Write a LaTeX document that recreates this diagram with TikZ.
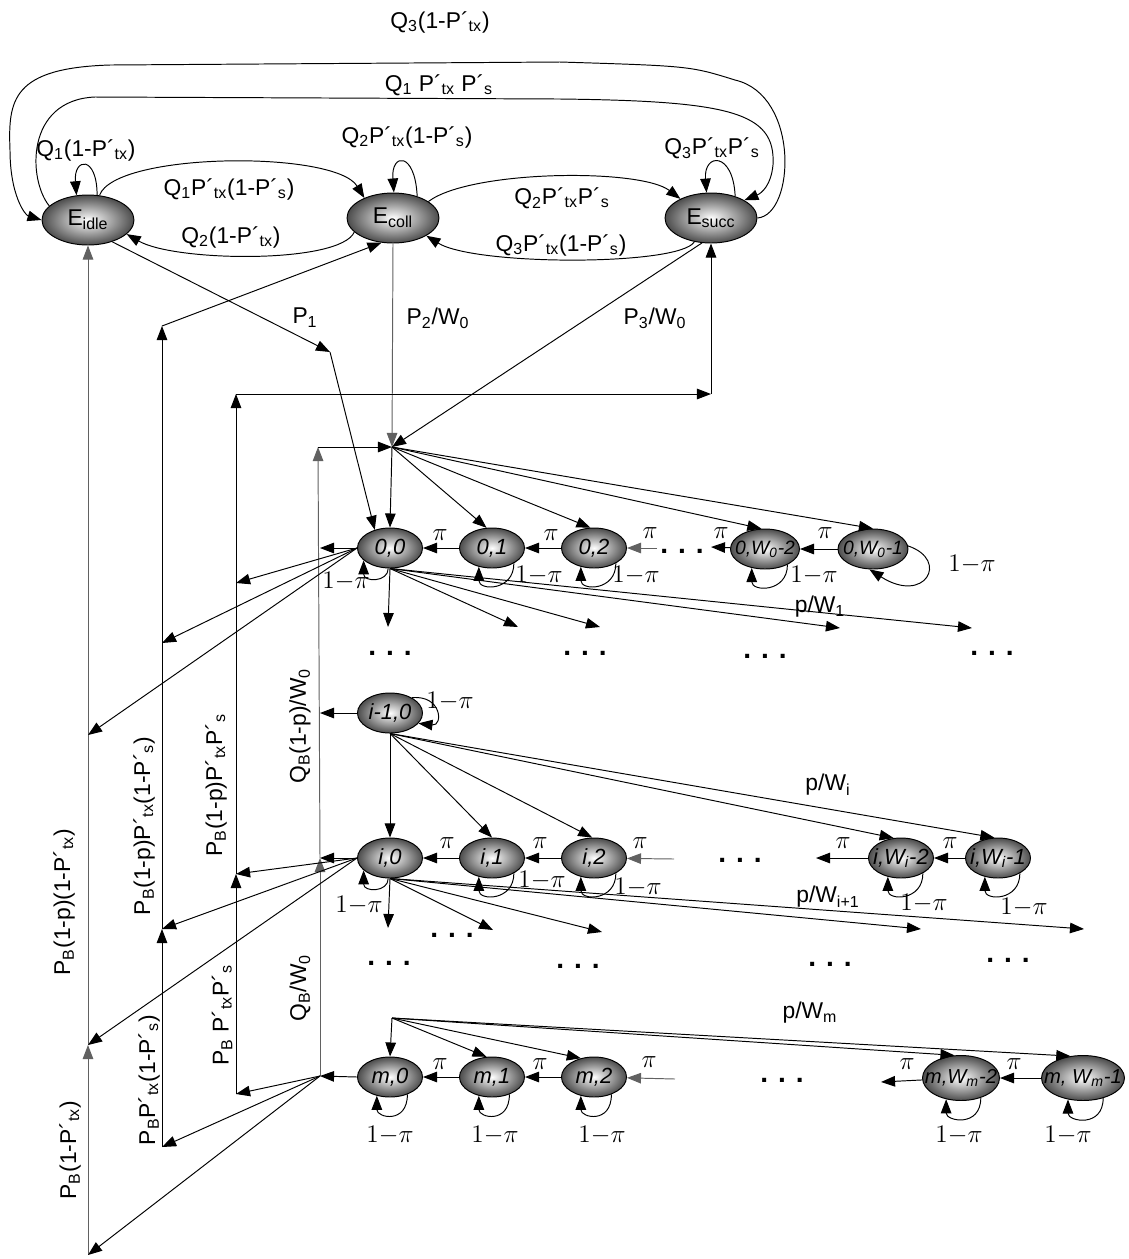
\documentclass[tikz,border=0pt]{standalone}
\usepackage[no-math]{fontspec}
\setmainfont{Liberation Sans}
\usetikzlibrary{shapes.geometric,arrows.meta}

\newcommand{\labfont}{\fontsize{13}{15}\selectfont}
\newcommand{\mathfont}{\fontsize{15.5}{17}\selectfont}
\newcommand{\rowdots}{{\fontsize{16}{18}\selectfont\bfseries.\hspace{0.35em}.\hspace{0.35em}.}}
\newcommand{\omp}{{\mathfont$1{-}\pi$}}
\newcommand{\pil}{{\mathfont$\pi$}}

\tikzset{
  state/.style={ellipse,draw,line width=0.55pt,inner color=white,outer color=black!70,
    inner xsep=-12pt,inner ysep=0pt,minimum width=1.3cm,minimum height=0.8cm,
    font=\fontsize{12.5}{14}\selectfont\itshape},
  wstate/.style={state,font=\fontsize{11}{13}\selectfont\itshape},
  estate/.style={state,minimum width=1.84cm,minimum height=1cm,font=\labfont},
  tr/.style={-{Triangle[length=8pt,width=6pt]},line width=0.55pt},
  gtr/.style={tr,draw=black!62},
  lab/.style={font=\labfont,inner sep=0pt},
  rlab/.style={lab,rotate=90},
}

\begin{document}
\begin{tikzpicture}[x=0.02cm,y=-0.02cm]
\useasboundingbox (0,0) rectangle (1129,1259);

% channel states
\node[estate] (Eidle) at (88,220) {E\textsubscript{idle}};
\node[estate] (Ecoll) at (393,218) {E\textsubscript{coll}};
\node[estate] (Esucc) at (711,218) {E\textsubscript{succ}};

% backoff states
\node[state] (n00) at (390,548) {0,0};
\node[state] (n01) at (492,548) {0,1};
\node[state] (n02) at (594,548) {0,2};
\node[wstate,minimum width=1.38cm] (n0a) at (765,549) {0,W\textsubscript{0}-2};
\node[wstate,minimum width=1.4cm] (n0b) at (873,549) {0,W\textsubscript{0}-1};

\node[state] (nh) at (390,713) {i-1,0};

\node[state] (ni0) at (390,858) {i,0};
\node[state] (ni1) at (492,858) {i,1};
\node[state] (ni2) at (594,858) {i,2};
\node[state] (nia) at (901,858) {i,W\textsubscript{i}-2};
\node[state] (nib) at (998,858) {i,W\textsubscript{i}-1};

\node[state] (nm0) at (390,1077) {m,0};
\node[state] (nm1) at (492,1077) {m,1};
\node[state] (nm2) at (594,1077) {m,2};
\node[wstate,font=\fontsize{11.5}{13}\selectfont\itshape,minimum width=1.54cm,minimum height=0.9cm] (nma) at (961,1078) {m,W\textsubscript{m}-2};
\node[wstate,font=\fontsize{11.5}{13}\selectfont\itshape,minimum width=1.66cm,minimum height=0.9cm] (nmb) at (1083,1078) {m, W\textsubscript{m}-1};

% free ends
\coordinate (hub0) at (392,447);
\coordinate (hubm) at (392,1018);
\coordinate (p1) at (330,352);
\coordinate (cA) at (88,735);  \coordinate (cB) at (88,1045); \coordinate (cC) at (88,1255);
\coordinate (dA) at (162,643); \coordinate (dB) at (162,929); \coordinate (dC) at (162,1147);
\coordinate (dTop) at (162,326);
\coordinate (eA) at (236,583); \coordinate (eB) at (236,874); \coordinate (eC) at (236,1094);
\coordinate (eTop) at (236,394); \coordinate (eR) at (711,394);
\coordinate (fA) at (320,548); \coordinate (fB) at (320,713); \coordinate (fC) at (320,858);
\coordinate (fM) at (320,1076); \coordinate (fTop) at (318,447);

% transitions between channel states
\draw[tr] (Esucc.east) .. controls (795,215) and (800,95) .. (735,80)
  .. controls (690,66) .. (560,62) -- (110,65)
  .. controls (12,68) and (8,100) .. (10,150) .. controls (10,195) and (25,215) .. (Eidle.west);
\draw[tr] (Eidle.160) .. controls (28,180) and (25,100) .. (95,97) -- (560,99)
  .. controls (730,101) and (776,112) .. (773,165) .. controls (771,185) and (762,193) .. (Esucc.28);
\draw[tr] (Eidle.70) .. controls +(0,-40) and +(-3,-38) .. (Eidle.115);
\draw[tr] (Ecoll.42) .. controls +(-2,-45) and +(-3,-40) .. (Ecoll.88);
\draw[tr] (Esucc.42) .. controls +(-2,-45) and +(-3,-40) .. (Esucc.100);
\draw[tr] (Eidle.65) .. controls (115,152) and (335,150) .. (Ecoll.145);
\draw[tr] (Ecoll.200) .. controls (340,264) and (175,262) .. (Eidle.-20);
\draw[tr] (Ecoll.25) .. controls (470,170) and (640,168) .. (Esucc.148);
\draw[tr] (Esucc.235) .. controls (680,266) and (475,266) .. (Ecoll.-28);

\node[lab] (lq3) at (440,22) {Q\textsubscript{3}(1-P´\textsubscript{tx})};
\node[lab] (lq1s) at (439,85) {Q\textsubscript{1} P´\textsubscript{tx} P´\textsubscript{s}};
\node[lab] (lq1i) at (86,150) {Q\textsubscript{1}(1-P´\textsubscript{tx})};
\node[lab] (lq2c) at (407,137) {Q\textsubscript{2}P´\textsubscript{tx}(1-P´\textsubscript{s})};
\node[lab] (lq3s) at (712,148) {Q\textsubscript{3}P´\textsubscript{tx}P´\textsubscript{s}};
\node[lab] (lq1c) at (229,189) {Q\textsubscript{1}P´\textsubscript{tx}(1-P´\textsubscript{s})};
\node[lab] (lq2i) at (231,237) {Q\textsubscript{2}(1-P´\textsubscript{tx})};
\node[lab] (lq2s) at (562,198) {Q\textsubscript{2}P´\textsubscript{tx}P´\textsubscript{s}};
\node[lab] (lq3c) at (561,245) {Q\textsubscript{3}P´\textsubscript{tx}(1-P´\textsubscript{s})};

% into stage 0
\draw[tr] (Eidle.-42) -- (p1);
\draw[tr] (p1) -- (n00.130);
\draw[gtr] (Ecoll.south) -- (hub0);
\draw[tr] (Esucc.250) -- (hub0);
\node[lab] (lp1) at (305,318) {P\textsubscript{1}};
\node[lab] (lp2) at (438,318) {P\textsubscript{2}/W\textsubscript{0}};
\node[lab] (lp3) at (655,318) {P\textsubscript{3}/W\textsubscript{0}};

% return lines on the left
\draw[gtr] (cC) -- (cB);
\draw[gtr] (cB) -- (Eidle.south);
\draw[tr] (dC) -- (dB);
\draw[tr] (dB) -- (dTop);
\draw[tr] (dTop) -- (Ecoll.245);
\draw[tr] (eC) -- (eB);
\draw[tr] (eB) -- (eTop);
\draw[tr] (eTop) -- (eR);
\draw[tr] (eR) -- (Esucc.south);
\draw[gtr] (fM) -- (fC);
\draw[gtr] (fC) -- (fTop);
\draw[tr] (fTop) -- (hub0);

\foreach \dst in {fA,eA,dA,cA} \draw[tr] (n00.west) -- (\dst);
\draw[tr] (nh.west) -- (fB);
\foreach \dst in {fC,eB,dB,cB} \draw[tr] (ni0.west) -- (\dst);
\draw[tr] (nm0.west) -- (fM);
\foreach \dst in {eC,dC,cC} \draw[tr] (fM) -- (\dst);

\node[rlab] (lb1) at (64,902) {P\textsubscript{B}(1-p)(1-P´\textsubscript{tx})};
\node[rlab] (lb2) at (144,826) {P\textsubscript{B}(1-p)P´\textsubscript{tx}(1-P´\textsubscript{s})};
\node[rlab] (lb3) at (216,785) {P\textsubscript{B}(1-p)P´\textsubscript{tx}P´\textsubscript{s}};
\node[rlab] (lb4) at (300,726) {Q\textsubscript{B}(1-p)/W\textsubscript{0}};
\node[rlab] (lb5) at (70,1150) {P\textsubscript{B}(1-P´\textsubscript{tx})};
\node[rlab] (lb6) at (149,1080) {P\textsubscript{B}P´\textsubscript{tx}(1-P´\textsubscript{s})};
\node[rlab] (lb7) at (222,1015) {P\textsubscript{B} P´\textsubscript{tx}P´\textsubscript{s}};
\node[rlab] (lb8) at (300,988) {Q\textsubscript{B}/W\textsubscript{0}};

% stage 0
\draw[tr] (hub0) -- (n00.north);
\foreach \dst/\ang in {n01/105,n02/100,n0a/100,n0b/90} \draw[tr] (hub0) -- (\dst.\ang);
\coordinate (in0) at (657,548);
\coordinate (out0) at (711,547);
\draw[tr] (n01) -- (n00);
\draw[tr] (n02) -- (n01);
\draw[gtr] (in0) -- (n02);
\draw[tr] (n0a) -- (out0);
\draw[tr] (n0b) -- (n0a);
\node[lab] (pi01) at (440,535) {\pil};
\node[lab] (pi02) at (551,535) {\pil};
\node[lab] (pi03) at (650,533) {\pil};
\node[lab] (pi04) at (721,533) {\pil};
\node[lab] (pi05) at (825,533) {\pil};
\node[lab] (dots0) at (682,551) {\rowdots};

\draw[tr] (n00.-95) .. controls +(0,14) and +(0,22) .. (n00.-155);
\foreach \n in {n01,n02,n0a} \draw[tr] (\n.-35) .. controls +(0,28) and +(0,24) .. (\n.-125);
\draw[tr] (n0b.5) .. controls (950,560) and (925,605) .. (n0b.-100);
\node[lab] (om00) at (346,581) {\omp};
\node[lab] (om01) at (539,575) {\omp};
\node[lab] (om02) at (636,575) {\omp};
\node[lab] (om0a) at (814,575) {\omp};
\node[lab] (om0b) at (972,564) {\omp};

\foreach \dst/\pos in {t0a/{388,627},t0b/{518,627},t0c/{600,627},t0d/{840,628},t0e/{972,628}}{
  \coordinate (\dst) at (\pos);
  \draw[tr] (n00.south) -- (\dst);
}
\node[lab] (pw1) at (820,607) {p/W\textsubscript{1}};
\foreach \dn/\pos in {da/{390,653},db/{585,653},dc/{765,656},dd/{992,653}}
  \node[lab] (\dn) at (\pos) {\rowdots};

% stage i-1 and i
\draw[tr] (nh.35) .. controls +(30,-3) and +(25,3) .. (nh.-20);
\node[lab] (omh) at (450,701) {\omp};
\draw[tr] (nh.south) -- (ni0.north);
\foreach \dst/\ang in {ni1/90,ni2/95,nia/110,nib/100} \draw[tr] (nh.south) -- (\dst.\ang);
\node[lab] (pwi) at (828,785) {p/W\textsubscript{i}};

\coordinate (ini) at (674,859);
\coordinate (outi) at (816,858);
\draw[tr] (ni1) -- (ni0);
\draw[tr] (ni2) -- (ni1);
\draw[gtr] (ini) -- (ni2);
\draw[tr] (nia) -- (outi);
\draw[tr] (nib) -- (nia);
\node[lab] (pii1) at (447,843) {\pil};
\node[lab] (pii2) at (540,843) {\pil};
\node[lab] (pii3) at (640,843) {\pil};
\node[lab] (pii4) at (843,843) {\pil};
\node[lab] (pii5) at (950,843) {\pil};
\node[lab] (dotsi) at (740,860) {\rowdots};

\draw[tr] (ni0.-95) .. controls +(0,14) and +(0,22) .. (ni0.-155);
\foreach \n in {ni1,ni2,nia,nib} \draw[tr] (\n.-35) .. controls +(0,28) and +(0,24) .. (\n.-125);
\node[lab] (omi0) at (359,905) {\omp};
\node[lab] (omi1) at (542,880) {\omp};
\node[lab] (omi2) at (638,887) {\omp};
\node[lab] (omia) at (924,903) {\omp};
\node[lab] (omib) at (1024,907) {\omp};

\foreach \dst/\pos in {tia/{388,928},tib/{493,930},tic/{602,932},tid/{921,929},tie/{1084,929}}{
  \coordinate (\dst) at (\pos);
  \draw[tr] (ni0.south) -- (\dst);
}
\node[lab] (pwi1) at (828,897) {p/W\textsubscript{i+1}};
\foreach \dn/\pos in {ea/{452,935},eb/{389,963},ec/{578,966},ed/{830,964},ee/{1008,960}}
  \node[lab] (\dn) at (\pos) {\rowdots};

% stage m
\draw[tr] (hubm) -- (nm0.north);
\foreach \dst/\ang in {nm1/105,nm2/125,nma/106,nmb/120} \draw[tr] (hubm) -- (\dst.\ang);
\node[lab] (pwm) at (810,1013) {p/W\textsubscript{m}};

\coordinate (inm) at (675,1079);
\coordinate (outm) at (881,1082);
\draw[tr] (nm1) -- (nm0);
\draw[tr] (nm2) -- (nm1);
\draw[gtr] (inm) -- (nm2);
\draw[tr] (nma) -- (outm);
\draw[tr] (nmb) -- (nma);
\node[lab] (pim1) at (440,1064) {\pil};
\node[lab] (pim2) at (540,1064) {\pil};
\node[lab] (pim3) at (649,1062) {\pil};
\node[lab] (pim4) at (907,1064) {\pil};
\node[lab] (pim5) at (1014,1064) {\pil};
\node[lab] (dotsm) at (782,1080) {\rowdots};

\foreach \n in {nm0,nm1,nm2,nma,nmb} \draw[tr] (\n.-45) .. controls +(0,30) and +(0,22) .. (\n.-125);
\foreach \n/\xx in {nm0/390,nm1/495,nm2/602,nma/959,nmb/1068}
  \node[lab] (l\n) at (\xx,1135) {\omp};
\end{tikzpicture}
\end{document}
